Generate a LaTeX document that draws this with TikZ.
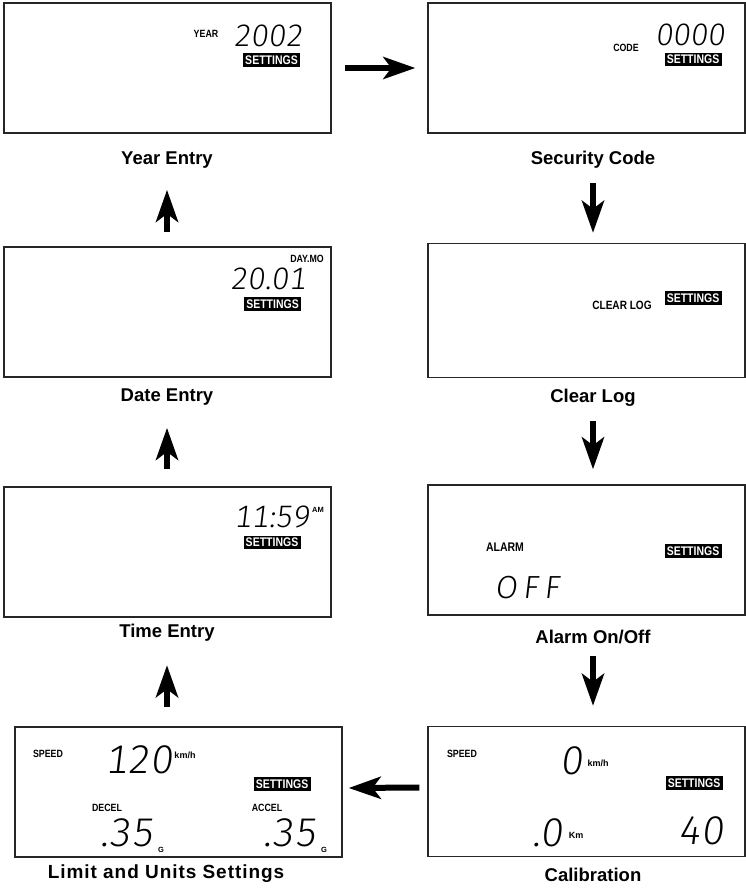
\documentclass[tikz,border=0pt]{standalone}
\usepackage{fontspec}
\setmainfont{Liberation Sans}
\newfontfamily\narrowfont{Liberation Sans}[FakeStretch=0.84]
\newfontfamily\lcdfont{Fira Sans Light}[FakeSlant=0.12,Numbers=Monospaced]
\usetikzlibrary{arrows.meta,positioning,calc}

\begin{document}
\begin{tikzpicture}[x=1pt,y=-1pt,
  screen/.style={draw=black!85,line width=1.3pt,minimum width=327pt,minimum height=130pt,inner sep=0pt},
  caption/.style={font=\bfseries\fontsize{18.5}{20}\selectfont},
  settings/.style={fill=black,text=white,inner sep=0pt,minimum width=57pt,minimum height=13.5pt,
    font=\narrowfont\bfseries\fontsize{12.5}{13}\selectfont},
  tag/.style={inner sep=0pt,font=\narrowfont\bfseries\fontsize{10.5}{11}\selectfont},
  unit/.style={inner sep=0pt,font=\bfseries\fontsize{9}{9}\selectfont},
  lcd/.style={inner sep=0pt,font=\lcdfont\fontsize{31}{31}\selectfont},
  biglcd/.style={inner sep=0pt,font=\lcdfont\fontsize{40}{40}\selectfont},
  flow/.style={line width=6pt,-{Stealth[length=32pt,width=22pt,inset=8pt]}}
]
\useasboundingbox (0,0) rectangle (746,889);

% left column
\node[screen] (year) at (167.5,68) {};
\node[tag] (yeartag) at (206,34) {YEAR};
\node[lcd] (yearval) at (268,36) {2002};
\node[settings] (yearset) at (271.5,60) {SETTINGS};
\node[caption] (yearlbl) at (167,160) {Year Entry};

\node[screen] (date) at (167.5,312) {};
\node[tag] (datetag) at (307,259) {DAY.MO};
\node[lcd] (dateval) at (268,279) {20.01};
\node[settings] (dateset) at (272.5,304) {SETTINGS};
\node[caption] (datelbl) at (167,397) {Date Entry};

\node[screen] (time) at (167.5,552) {};
\node[lcd] (timeval) at (272,517) {11:59};
\node[unit,font=\bfseries\fontsize{7.5}{8}\selectfont] (timeam) at (318,510) {AM};
\node[settings] (timeset) at (272,542.5) {SETTINGS};
\node[caption] (timelbl) at (167,633) {Time Entry};

\node[screen] (limit) at (178.5,792) {};
\node[tag] (limspeed) at (48,754) {SPEED};
\node[biglcd] (limval) at (139,760) {120};
\node[unit] (limkmh) at (185,755) {km/h};
\node[settings] (limset) at (282,784) {SETTINGS};
\node[tag] (decel) at (107,808) {DECEL};
\node[biglcd] (decelval) at (127,833) {.35};
\node[unit,font=\bfseries\fontsize{7.5}{8}\selectfont] (decelg) at (161,850) {G};
\node[tag] (accel) at (267,808) {ACCEL};
\node[biglcd] (accelval) at (290,833) {.35};
\node[unit,font=\bfseries\fontsize{7.5}{8}\selectfont] (accelg) at (324,850) {G};
\node[caption,font=\bfseries\fontsize{19}{20}\selectfont\addfontfeature{LetterSpace=5}] (limitlbl) at (166,874) {Limit and Units Settings};

% right column
\node[screen,minimum width=317pt] (code) at (586.5,68) {};
\node[tag] (codetag) at (626,48) {CODE};
\node[lcd] (codeval) at (690,35) {0000};
\node[settings] (codeset) at (693,59.5) {SETTINGS};
\node[caption] (codelbl) at (593,160) {Security Code};

\node[screen,minimum width=317pt,minimum height=134pt] (clear) at (586.5,310.5) {};
\node[tag,font=\narrowfont\bfseries\fontsize{12}{12}\selectfont] (cleartag) at (622,305) {CLEAR LOG};
\node[settings] (clearset) at (693,298) {SETTINGS};
\node[caption] (clearlbl) at (593,398) {Clear Log};

\node[screen,minimum width=317pt] (alarm) at (586.5,550) {};
\node[tag,font=\narrowfont\bfseries\fontsize{12.5}{13}\selectfont] (alarmtag) at (505,547) {ALARM};
\node[settings] (alarmset) at (693,551) {SETTINGS};
\node[lcd,font=\lcdfont\fontsize{32}{32}\selectfont\addfontfeature{LetterSpace=18}] (alarmval) at (527,588) {OFF};
\node[caption] (alarmlbl) at (593,637) {Alarm On/Off};

\node[screen,minimum width=317pt] (calib) at (586.5,791.5) {};
\node[tag] (calspeed) at (462,754) {SPEED};
\node[biglcd] (calval) at (572,761) {0};
\node[unit] (calkmh) at (598,763) {km/h};
\node[settings] (calset) at (694,783) {SETTINGS};
\node[biglcd] (caldist) at (548,833) {.0};
\node[unit] (calkm) at (576,835) {Km};
\node[biglcd] (calfactor) at (701,831) {40};
\node[caption] (caliblbl) at (593,875) {Calibration};

% connectors
\draw[flow] ([xshift=13pt]year.east) -- ([xshift=-12pt]code.west);
\draw[flow] ([yshift=-11pt]codelbl.south) -- ([yshift=10pt]codelbl.south |- clear.north);
\draw[flow] ([yshift=-11pt]clearlbl.south) -- ([yshift=15pt]clearlbl.south |- alarm.north);
\draw[flow] ([yshift=-9pt]alarmlbl.south) -- ([yshift=20pt]alarmlbl.south |- calib.north);
\draw[flow] ([xshift=-8pt,yshift=4pt]calib.west) -- ([xshift=6pt,yshift=4pt]limit.east);
\draw[flow] ([yshift=19pt]timelbl.south |- limit.north) -- ([yshift=-20pt]timelbl.south);
\draw[flow] ([yshift=17pt]datelbl.south |- time.north) -- ([yshift=-19pt]datelbl.south);
\draw[flow] ([yshift=14pt]yearlbl.south |- date.north) -- ([yshift=-18pt]yearlbl.south);
\end{tikzpicture}
\end{document}
